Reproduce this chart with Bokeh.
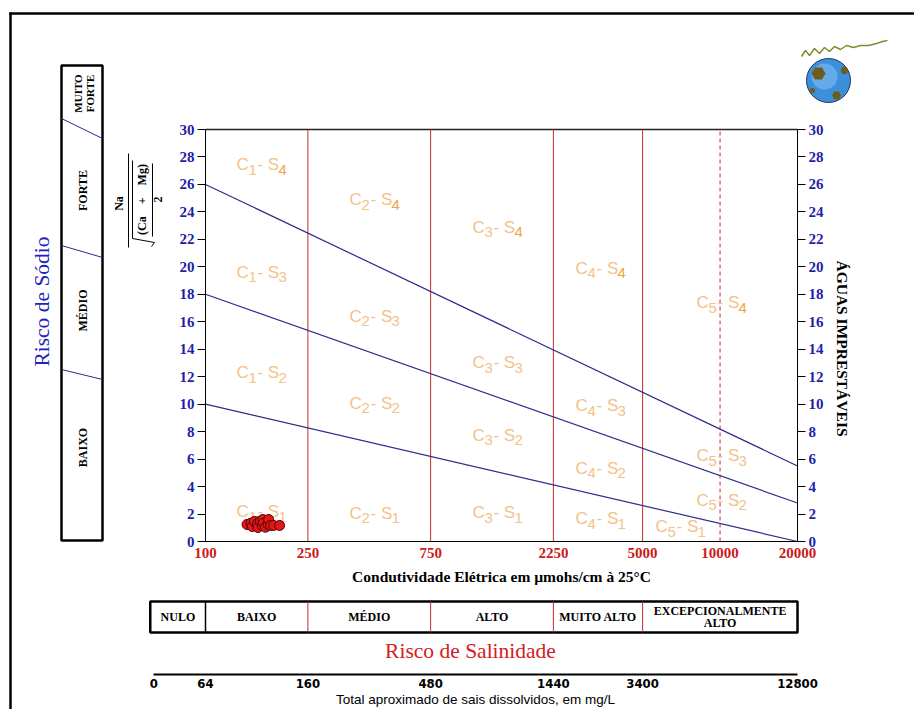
import math
from bokeh.plotting import figure
from bokeh.models import (Range1d, LinearAxis, LogAxis, FixedTicker,
                          NumeralTickFormatter, ColumnDataSource)
from bokeh.core.properties import value
from bokeh.embed import file_html
from bokeh.resources import INLINE

# ---------------- data ----------------
sar_ticks = list(range(0, 31, 2))
ec_ticks = [100, 250, 750, 2250, 5000, 10000, 20000]
ec_class_bounds = [250, 750, 2250, 5000]
ec_dashed = [10000]
ec_min, ec_max = 100, 20000
sar_min, sar_max = 0, 30

tds_tick_ec = [63, 100, 250, 750, 2250, 5000, 20000]
tds_labels = ["0", "64", "160", "480", "1440", "3400", "12800"]

sodium_line_left = [10, 18, 26]     # SAR at EC=100
sodium_line_right = [0, 2.8, 5.5]   # SAR at EC=20000

sample_ec = [145, 150, 152, 155, 159, 160, 163, 166, 167, 168, 171, 175, 176, 179, 184, 194]
sample_sar = [1.24, 1.33, 1.09, 1.46, 1.29, 1.02, 1.48, 1.17, 1.6, 1.33, 1.04, 1.24, 1.6, 1.17, 1.17, 1.17]

zone_c = [1, 2, 3, 4, 5,  1, 2, 3, 4, 5,  1, 2, 3, 4, 5,  1, 2, 3, 4, 5]
zone_s = [4, 4, 4, 4, 4,  3, 3, 3, 3, 3,  2, 2, 2, 2, 2,  1, 1, 1, 1, 1]
zone_ec = [165, 454, 1364, 3430, 10130,
           165, 454, 1364, 3430, 10130,
           165, 454, 1364, 3430, 10130,
           165, 454, 1364, 3430, 7020]
zone_sar = [27.45, 24.9, 22.9, 19.9, 17.4,
            19.6, 16.4, 13.0, 9.9, 6.26,
            12.3, 10.05, 7.72, 5.32, 3.0,
            2.18, 2.04, 2.11, 1.67, 1.09]

salinity_classes = ["NULO", "BAIXO", "MÉDIO", "ALTO", "MUITO ALTO"]
salinity_bounds = [61, 100, 250, 750, 2250, 5000, 20000]
salinity_last = ["EXCEPCIONALMENTE", "ALTO"]

sodium_classes = ["BAIXO", "MÉDIO", "FORTE"]
sodium_last = ["MUITO", "FORTE"]

# ---------------- pixel helpers (decorations only) ----------------
PX_DEC = 257.28
PX_UNIT = 13.733


def ecx(px):
    return 100 * 10 ** ((px - 205) / PX_DEC)


def sary(py):
    return (541 - py) / PX_UNIT


W, H = 914, 709
p = figure(width=W, height=H, output_backend="svg", toolbar_location=None,
           x_axis_type="log", x_axis_location=None, y_axis_location=None,
           x_range=Range1d(ecx(0), ecx(W)), y_range=Range1d(sary(H), sary(0)),
           min_border=0)
p.outline_line_color = None
p.grid.visible = False
p.background_fill_color = "white"
p.border_fill_color = "white"

SERIF = "Liberation Serif"
SANS = "Liberation Sans"
BLUE = "#1f1fa8"
RED = "#cc1a1a"
NAVY = "#2b2b8c"

# ---------------- axes ----------------
yl = LinearAxis(fixed_location=ec_min, bounds=(sar_min, sar_max),
                ticker=FixedTicker(ticks=sar_ticks))
yr = LinearAxis(fixed_location=ec_max, bounds=(sar_min, sar_max),
                ticker=FixedTicker(ticks=sar_ticks))
for ax in (yl, yr):
    ax.major_tick_out = 8
    ax.major_tick_in = 0
    ax.minor_tick_out = 0
    ax.minor_tick_in = 0
    ax.axis_line_color = "black"
    ax.major_tick_line_color = "black"
    ax.major_label_standoff = 3
    ax.major_label_text_font = SERIF
    ax.major_label_text_font_style = "bold"
    ax.major_label_text_font_size = "15px"
    ax.major_label_text_color = BLUE
p.add_layout(yl, "left")
p.add_layout(yr, "right")

xb = LogAxis(fixed_location=sar_min, bounds=(ec_min, ec_max),
             ticker=FixedTicker(ticks=ec_ticks), formatter=NumeralTickFormatter(format="0"))
xb.major_tick_out = 0
xb.major_tick_in = 0
xb.minor_tick_out = 0
xb.minor_tick_in = 0
xb.axis_line_color = "black"
xb.major_label_standoff = 6
xb.major_label_text_font = SERIF
xb.major_label_text_font_style = "bold"
xb.major_label_text_font_size = "15px"
xb.major_label_text_color = RED
xb.axis_label = "Condutividade Elétrica em µmohs/cm à 25°C"
xb.axis_label_text_font = SERIF
xb.axis_label_text_font_style = "bold"
xb.axis_label_text_font_size = "15.5px"
xb.axis_label_text_color = "black"
xb.axis_label_standoff = 7
p.add_layout(xb, "below")

tds = LogAxis(fixed_location=sary(674), bounds=(tds_tick_ec[0], tds_tick_ec[-1]),
              ticker=FixedTicker(ticks=tds_tick_ec),
              major_label_overrides={k: v for k, v in zip(tds_tick_ec, tds_labels)})
tds.major_tick_out = 0
tds.major_tick_in = 0
tds.minor_tick_out = 0
tds.minor_tick_in = 0
tds.axis_line_color = "black"
tds.axis_line_width = 2
tds.major_label_standoff = 4
tds.major_label_text_font = "DejaVu Sans Condensed, Liberation Sans Narrow, Liberation Sans"
tds.major_label_text_font_style = "bold"
tds.major_label_text_font_size = "13px"
tds.major_label_text_color = "black"
tds.axis_label = "Total aproximado de sais dissolvidos, em mg/L"
tds.axis_label_text_font = SANS
tds.axis_label_text_font_style = "normal"
tds.axis_label_text_font_size = "13.5px"
tds.axis_label_text_color = "black"
tds.axis_label_standoff = 1
p.add_layout(tds, "below")

# ---------------- chart body ----------------
p.segment(x0=[ec_min], y0=[sar_max], x1=[ec_max], y1=[sar_max], line_color="#222222", line_width=1.5)

p.segment(x0=ec_class_bounds, y0=[sar_min] * len(ec_class_bounds),
          x1=ec_class_bounds, y1=[sar_max] * len(ec_class_bounds),
          line_color="#c8282d", line_width=1)
p.segment(x0=ec_dashed, y0=[sar_min], x1=ec_dashed, y1=[sar_max],
          line_color="#c8282d", line_width=1, line_dash="4 3")

for a, b in zip(sodium_line_left, sodium_line_right):
    p.line([ec_min, ec_max], [a, b], line_color=NAVY, line_width=1.2)

# zone labels
main_x, main_y, main_t, main_dx, main_c = [], [], [], [], []
sub_x, sub_y, sub_t, sub_dx, sub_c = [], [], [], [], []
TAN = "#f2c28a"
ORANGE = "#f0a348"
for e, s, ci, si in zip(zone_ec, zone_sar, zone_c, zone_s):
    main_x += [e, e]
    main_y += [s, s]
    main_t += ["C", "- S"]
    main_dx += [-25, -4]
    main_c += [TAN, TAN]
    sub_x += [e, e]
    sub_y += [s, s]
    sub_t += [str(ci), str(si)]
    sub_dx += [-13, 17]
    sub_c += [TAN, ORANGE if si == 4 else TAN]

p.text(x="x", y="y", text="t", x_offset="dx", text_color="c",
       source=ColumnDataSource(dict(x=main_x, y=main_y, t=main_t, dx=main_dx, c=main_c)),
       text_font=value(SANS), text_font_size="17px", text_align="left",
       text_baseline="alphabetic")
p.text(x="x", y="y", text="t", x_offset="dx", text_color="c",
       source=ColumnDataSource(dict(x=sub_x, y=sub_y, t=sub_t, dx=sub_dx, c=sub_c)),
       text_font=value(SANS), text_font_size="15px", text_align="left",
       text_baseline="alphabetic", y_offset=5)

# samples
p.scatter(sample_ec, sample_sar, size=10, fill_color="#e01818", line_color="#5a0000",
          line_width=1)

# ---------------- sodium hazard column (left) ----------------
bl, br = ecx(61), ecx(102)
p.quad(left=[bl], right=[br], top=[sary(65)], bottom=[sary(540)],
       fill_color=None, line_color="black", line_width=2.5)
p.segment(x0=[bl, bl, bl], y0=[sary(369), sary(245), sary(118)],
          x1=[br, br, br], y1=[sary(379), sary(257), sary(138)],
          line_color=NAVY, line_width=1)
sod_y = [sary(447), sary(310), sary(190)]
p.text(x=[ecx(82)] * 3, y=sod_y, text=sodium_classes, angle=math.pi / 2,
       text_font=value(SERIF), text_font_style="bold", text_font_size="12px",
       text_align="center", text_baseline="middle", text_color="black")
p.text(x=[ecx(77), ecx(89)], y=[sary(93)] * 2, text=sodium_last, angle=math.pi / 2,
       text_font=value(SERIF), text_font_style="bold", text_font_size="11px",
       text_align="center", text_baseline="middle", text_color="black")
p.text(x=[ecx(41)], y=[sary(301)], text=["Risco de Sódio"], angle=math.pi / 2,
       text_font=value(SERIF), text_font_size="21.5px", text_align="center",
       text_baseline="middle", text_color="#2222bb")

# y-axis formula  Na / sqrt((Ca + Mg)/2)
NB = "\u00a0"
p.text(x=[ecx(118), ecx(141), ecx(157)], y=[sary(203), sary(199), sary(199)],
       text=["Na", "(Ca" + NB * 4 + "+" + NB * 4 + "Mg)", "2"], angle=math.pi / 2,
       text_font=value(SERIF), text_font_style="bold", text_font_size="12px",
       text_align="center", text_baseline="middle", text_color="black")
p.segment(x0=[ecx(128), ecx(152)], y0=[sary(153), sary(163)],
          x1=[ecx(128), ecx(152)], y1=[sary(247), sary(236)],
          line_color="black", line_width=1)
p.line([ecx(132), ecx(132), ecx(154), ecx(151)],
       [sary(160), sary(238), sary(242), sary(246)], line_color="black", line_width=1)

# right label
p.text(x=[ecx(842)], y=[sary(348)], text=["ÁGUAS IMPRESTÁVEIS"], angle=-math.pi / 2,
       text_font=value(SERIF), text_font_style="bold", text_font_size="15.5px",
       text_align="center", text_baseline="middle", text_color="black")

# ---------------- salinity hazard row (bottom) ----------------
p.quad(left=[salinity_bounds[0]], right=[salinity_bounds[-1]], top=[sary(601)], bottom=[sary(632)],
       fill_color=None, line_color="black", line_width=2.5)
p.segment(x0=[salinity_bounds[1]], y0=[sary(601)], x1=[salinity_bounds[1]], y1=[sary(632)],
          line_color="black", line_width=1.5)
p.segment(x0=salinity_bounds[2:-1], y0=[sary(601)] * 4, x1=salinity_bounds[2:-1],
          y1=[sary(632)] * 4, line_color="#c8282d", line_width=1)
mids = [math.sqrt(a * b) for a, b in zip(salinity_bounds[:-1], salinity_bounds[1:])]
p.text(x=mids[:-1], y=[sary(616)] * 5, text=salinity_classes,
       text_font=value(SERIF), text_font_style="bold", text_font_size="12px",
       text_align="center", text_baseline="middle", text_color="black")
p.text(x=[mids[-1]] * 2, y=[sary(610), sary(622)], text=salinity_last,
       text_font=value(SERIF), text_font_style="bold", text_font_size="12px",
       text_align="center", text_baseline="middle", text_color="black")
p.text(x=[ecx(470)], y=[sary(650)], text=["Risco de Salinidade"],
       text_font=value(SERIF), text_font_size="21.5px", text_align="center",
       text_baseline="middle", text_color="#d42020")

# ---------------- outer frame ----------------
p.segment(x0=[ecx(9), ecx(10)], y0=[sary(13), sary(12)], x1=[ecx(930), ecx(10)],
          y1=[sary(13), sary(730)], line_color="black", line_width=2.5)

# ---------------- logo ----------------
p.scatter([ecx(828)], [sary(80)], size=44, fill_color="#3d8fdc", line_color="#1d3a5c",
          line_width=1)
p.scatter([ecx(824)], [sary(76)], size=26, fill_color="#8cc8f4", line_color=None, fill_alpha=0.5)
p.scatter([ecx(818), ecx(836), ecx(844), ecx(812)], [sary(73), sary(95), sary(70), sary(90)],
          size=[14, 9, 8, 6], fill_color="#6e5c1c", line_color=None, marker="hex")
logo_px = [(801, 56), (805, 50), (809, 55), (814, 48), (819, 53), (824, 47), (829, 51),
           (834, 46), (840, 49), (846, 45), (853, 47), (860, 45), (868, 45), (876, 43),
           (882, 41), (887, 40)]
p.line([ecx(a) for a, b in logo_px], [sary(b) for a, b in logo_px],
       line_color="#7d8f2a", line_width=1.5)

open("out.html", "w").write(file_html(p, INLINE))
